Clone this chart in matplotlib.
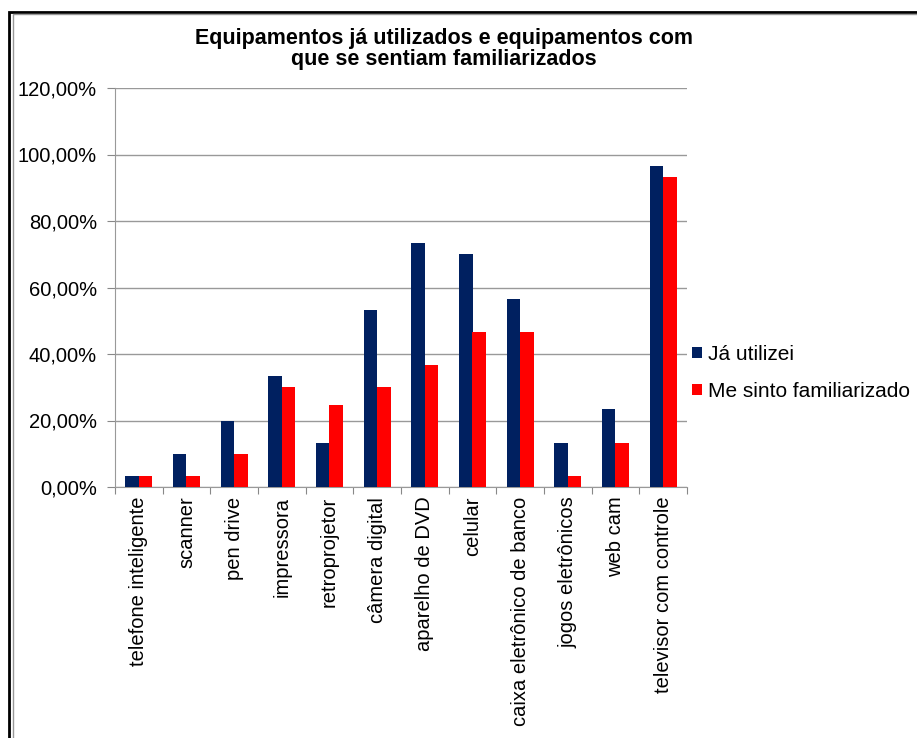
import numpy as np
import matplotlib
matplotlib.use("Agg")
import matplotlib.pyplot as plt
from matplotlib.patches import Rectangle
from matplotlib.ticker import FuncFormatter

categories = ["telefone inteligente", "scanner", "pen drive", "impressora",
              "retroprojetor", "câmera digital", "aparelho de DVD", "celular",
              "caixa eletrônico de banco", "jogos eletrônicos", "web cam",
              "televisor com controle"]
ja_utilizei = [3.33, 10.0, 20.0, 33.33, 13.33, 53.33, 73.33, 70.0, 56.67, 13.33, 23.33, 96.67]
familiarizado = [3.33, 3.33, 10.0, 30.0, 24.6, 30.0, 36.67, 46.67, 46.67, 3.33, 13.33, 93.33]
yticks = [0, 20, 40, 60, 80, 100, 120]

plt.rcParams["font.family"] = ["Liberation Sans", "DejaVu Sans"]

fig = plt.figure(figsize=(9.17, 7.38), dpi=100)
ax = fig.add_axes([115 / 917, 1 - 487 / 738, 572 / 917, 399 / 738])

x = np.arange(len(categories))
w = 0.28
ax.bar(x - w / 2, ja_utilizei, w, color="#002060", label="Já utilizei", zorder=3)
ax.bar(x + w / 2, familiarizado, w, color="#ff0000", label="Me sinto familiarizado", zorder=3)

ax.set_xlim(-0.5, len(categories) - 0.5)
ax.set_ylim(0, 120)
ax.set_yticks(yticks)
ax.yaxis.set_major_formatter(FuncFormatter(lambda v, p: f"{v:.2f}%".replace(".", ",")))
ax.tick_params(axis="y", length=6, color="#888888", labelsize=14.5, pad=7)
ax.set_xticks(np.arange(-0.5, len(categories), 1))
ax.set_xticklabels([])
ax.set_xticks(x, minor=True)
ax.set_xticklabels(categories, minor=True, rotation=90, fontsize=14.5)
ax.tick_params(axis="x", which="major", length=5, color="#888888")
ax.tick_params(axis="x", which="minor", length=0, pad=7)
ax.grid(axis="y", color="#999999", linewidth=1, zorder=0)
for s in ["top", "right"]:
    ax.spines[s].set_visible(False)
for s in ["left", "bottom"]:
    ax.spines[s].set_color("#999999")

fig.text(444 / 917, 1 - 49 / 738, "Equipamentos já utilizados e equipamentos com\nque se sentiam familiarizados",
         ha="center", va="center", fontsize=15.5, fontweight="bold", linespacing=1.05)

fig.legend(loc="center left", bbox_to_anchor=(684 / 917, 1 - 373 / 738), frameon=False,
           fontsize=15, handlelength=0.45, handleheight=0.45, handletextpad=0.3,
           labelspacing=0.85, borderaxespad=0)

# moldura
fig.patches.append(Rectangle((9 / 917, -0.1), 1.2, 1 - 12 / 738 + 0.1, transform=fig.transFigure,
                             fill=False, edgecolor="black", linewidth=2))
fig.patches.append(Rectangle((12.5 / 917, -0.1), 1.2, 1 - 14.5 / 738 + 0.1, transform=fig.transFigure,
                             fill=False, edgecolor="#999999", linewidth=1))

fig.savefig("out.png", dpi=100)
